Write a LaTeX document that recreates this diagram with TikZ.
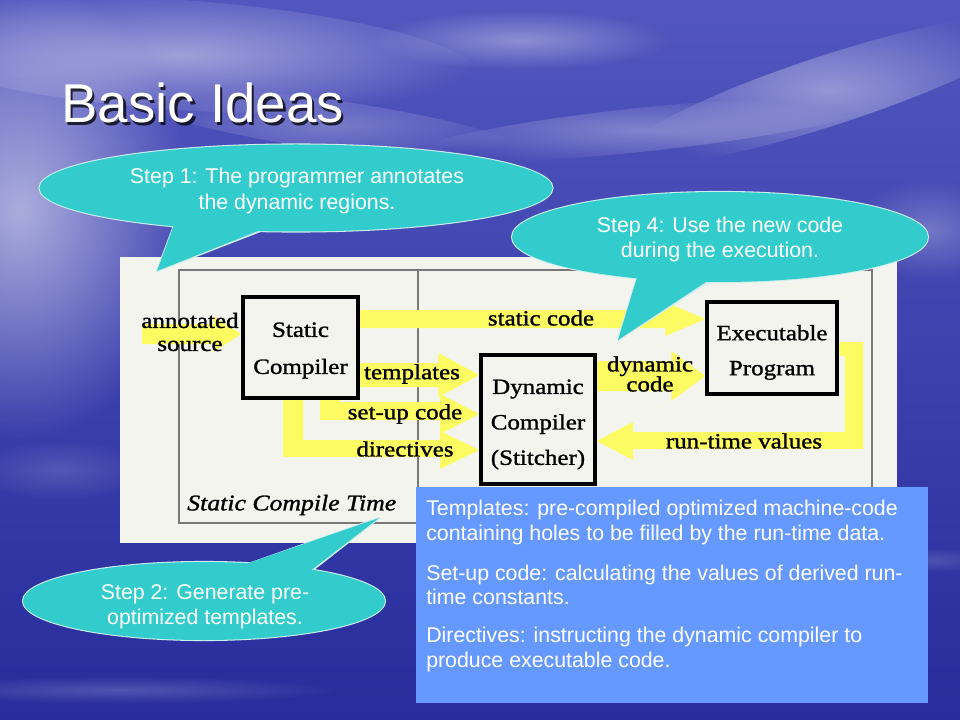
\documentclass[tikz,border=0pt]{standalone}
\usepackage{fontspec}
\setmainfont{Liberation Sans}
\newfontfamily\diagfont[FakeStretch=1.15,FakeBold=1.2]{Liberation Serif}
\usetikzlibrary{shapes.geometric,calc,fadings}
\definecolor{skytop}{RGB}{82,86,190}
\definecolor{skymid}{RGB}{68,72,182}
\definecolor{seabot}{RGB}{40,44,156}
\definecolor{callc}{RGB}{51,204,204}
\definecolor{bord}{RGB}{205,238,238}
\definecolor{boxblue}{RGB}{102,153,255}
\definecolor{paper}{RGB}{243,244,238}
\definecolor{ylw}{RGB}{252,252,98}
\definecolor{framegray}{RGB}{120,120,120}
\tikzfading[name=glow, inner color=transparent!0, outer color=transparent!100]
\pgfdeclarelayer{back}
\pgfdeclarelayer{mid}
\pgfsetlayers{back,mid,main}
\newcommand\fatarrow[5]{%
  \fill[ylw] ($#1+(0,-#3)$) -- ($#2+(-#5,-#3)$) -- ($#2+(-#5,-#4)$) -- #2 --
    ($#2+(-#5,#4)$) -- ($#2+(-#5,#3)$) -- ($#1+(0,#3)$) -- cycle;}
\tikzset{
  cbox/.style={draw=black, line width=2.5pt, fill=paper, inner sep=0},
  boxlbl/.style={align=center, inner sep=0, font=\diagfont\fontsize{16.3}{#1}\selectfont},
  lbl/.style={font=\diagfont\fontsize{16.3}{17.25}\selectfont, inner sep=0, align=center},
  bubble/.style={ellipse, fill=callc, inner sep=0},
  bubbletext/.style={align=center, inner sep=0, text=white, font=\fontsize{16}{19}\selectfont},
  bubbleline/.style={ellipse, draw=bord, line width=1.6pt, inner sep=0},
  tailline/.style={draw=bord, line width=1.6pt, line join=round},
  boxtext/.style={anchor=base west, inner sep=0, text=white, font=\fontsize{16}{19}\selectfont},
  cloud/.style={white, path fading=glow, opacity=#1}
}
\begin{document}
\begin{tikzpicture}[x=0.75pt,y=-0.75pt]
\useasboundingbox (0,0) rectangle (960,720);
\begin{pgfonlayer}{back}
  % sky and sea
  \shade[top color=skytop, middle color=skymid, bottom color=seabot] (0,0) rectangle (960,720);
  \fill[cloud=0.55] (20,210) ellipse [x radius=170, y radius=230];
  \fill[cloud=0.45, rotate around={-4:(180,55)}] (180,55) ellipse [x radius=300, y radius=55];
  \fill[cloud=0.35] (520,40) ellipse [x radius=150, y radius=30];
  \fill[cloud=0.40, rotate around={18:(830,90)}] (830,90) ellipse [x radius=220, y radius=35];
  \fill[cloud=0.30, rotate around={6:(640,130)}] (640,130) ellipse [x radius=230, y radius=22];
  \fill[cloud=0.25, rotate around={-8:(330,125)}] (330,125) ellipse [x radius=200, y radius=25];
  \fill[cloud=0.25] (930,230) ellipse [x radius=80, y radius=50];
  \fill[cloud=0.18] (120,690) ellipse [x radius=220, y radius=14];
  \fill[cloud=0.15] (60,470) ellipse [x radius=90, y radius=30];
  \fill[cloud=0.15] (930,560) ellipse [x radius=80, y radius=12];
  % diagram paper and frame
  \fill[paper] (120,257) rectangle (897,543);
  \draw[framegray, line width=0.9pt] (179,270) rectangle (872,523);
  \draw[framegray, line width=0.9pt] (418,270) -- (418,523);
\end{pgfonlayer}

% boxes
\node[cbox, minimum width=86.25pt, minimum height=75.75pt] (sc) at (300.5,347.5) {};
\node[boxlbl=27.75] (sct) at (300.5,350.5) {Static\\Compiler};
\node[cbox, minimum width=85.5pt, minimum height=96.75pt] (dc) at (538,419.5) {};
\node[boxlbl=26.6] (dct) at (538,424.5) {Dynamic\\Compiler\\(Stitcher)};
\node[cbox, minimum width=97.5pt, minimum height=69pt] (ex) at (772,348) {};
\node[boxlbl=26.25] (ext) at (772,352.5) {Executable\\Program};

% yellow arrows
\begin{pgfonlayer}{mid}
  \coordinate (srcA) at (142,334);
  \coordinate (srcB) at (sc.west |- 0,334);
  \fatarrow{(srcA)}{(srcB)}{10}{18}{28}
  \coordinate (scA) at (sc.east |- 0,319);
  \coordinate (scB) at (ex.west |- 0,319);
  \fatarrow{(scA)}{(scB)}{9}{17}{40}
  \coordinate (tA) at (sc.east |- 0,375);
  \coordinate (tB) at (dc.west |- 0,375);
  \fatarrow{(tA)}{(tB)}{12}{22}{41}
  \fill[ylw] (sc.south -| 320,0) -- (sc.south -| 340,0) -- (340,402) -- (440,402) -- (440,394)
     -- (dc.west |- 0,414) -- (440,434) -- (440,420) -- (320,420) -- cycle;
  \fill[ylw] (sc.south -| 283,0) -- (sc.south -| 303,0) -- (303,440) -- (440,440) -- (440,431)
     -- (dc.west |- 0,450) -- (440,469) -- (440,457) -- (283,457) -- cycle;
  \coordinate (dA) at (dc.east |- 0,376);
  \coordinate (dB) at (ex.west |- 0,376);
  \fatarrow{(dA)}{(dB)}{15}{25}{34}
  \fill[ylw] (ex.east |- 0,342) -- (863,342) -- (863,449) -- (633,449) -- (633,460)
     -- (dc.east |- 0,441) -- (633,422) -- (633,432) -- (845,432) -- (845,356)
     -- (ex.east |- 0,356) -- cycle;
\end{pgfonlayer}

% labels
\node[lbl] (l1) at (190,332) {annotated\\source};
\node[lbl] (l2) at (541,318) {static code};
\node[lbl] (l3) at (412,374) {templates};
\node[lbl] (l4) at (405,414) {set-up code};
\node[lbl] (l5) at (405,449) {directives};
\node[lbl, font=\diagfont\fontsize{16.3}{15}\selectfont] (l6) at (650,374) {dynamic\\code};
\node[lbl] (l7) at (744,441) {run-time values};
\node[lbl, anchor=west, font=\diagfont\itshape\fontsize{16.8}{18}\selectfont] (l8) at (187,505) {Static Compile Time};

% title
\node[anchor=base west, inner sep=0, text=black, opacity=0.75, font=\fontsize{41}{48}\selectfont] (titleshadow) at (63.5,125.5) {Basic Ideas};
\node[anchor=base west, inner sep=0, text=white, font=\fontsize{41}{48}\selectfont] (title) at (61,123) {Basic Ideas};

% callout 1
\node[bubbleline, minimum width=384.75pt, minimum height=65.25pt] (c1o) at (296,188) {};
\draw[tailline] (175,223) -- (157,271) -- (268,228);
\node[bubble, minimum width=384.75pt, minimum height=65.25pt] (c1) at (296,188) {};
\coordinate (c1tip) at (157,271);
\fill[callc] (175,222) -- (c1tip) -- (268,227) -- cycle;
\node[bubbletext] (c1t) at (297,191) {Step 1: The programmer annotates\\the dynamic regions.};

% callout 4
\node[bubbleline, minimum width=312pt, minimum height=67.5pt] (c4o) at (720,237) {};
\draw[tailline] (638,275) -- (618,340) -- (712,279);
\node[bubble, minimum width=312pt, minimum height=67.5pt] (c4) at (720,237) {};
\coordinate (c4tip) at (618,340);
\fill[callc] (638,274) -- (c4tip) -- (712,278) -- cycle;
\node[bubbletext] (c4t) at (720,239.5) {Step 4: Use the new code\\during the execution.};

% text box
\node[fill=boxblue, minimum width=384pt, minimum height=162pt, anchor=north west, inner sep=0] (tb) at (416,487) {};
\node[boxtext] (t1) at (426,515) {Templates: pre-compiled optimized machine-code};
\node[boxtext] (t2) at (426,540) {containing holes to be filled by the run-time data.};
\node[boxtext] (t3) at (426,580) {Set-up code: calculating the values of derived run-};
\node[boxtext] (t4) at (426,604) {time constants.};
\node[boxtext] (t5) at (426,642) {Directives: instructing the dynamic compiler to};
\node[boxtext] (t6) at (426,667) {produce executable code.};

% callout 2
\node[bubbleline, minimum width=271.5pt, minimum height=58.5pt] (c2o) at (204,601) {};
\draw[tailline] (243,566) -- (379,518) -- (310,572);
\node[bubble, minimum width=271.5pt, minimum height=58.5pt] (c2) at (204,601) {};
\coordinate (c2tip) at (379,518);
\fill[callc] (243,565) -- (c2tip) -- (310,571) -- cycle;
\node[bubbletext] (c2t) at (205,606.5) {Step 2: Generate pre-\\optimized templates.};
\end{tikzpicture}
\end{document}
